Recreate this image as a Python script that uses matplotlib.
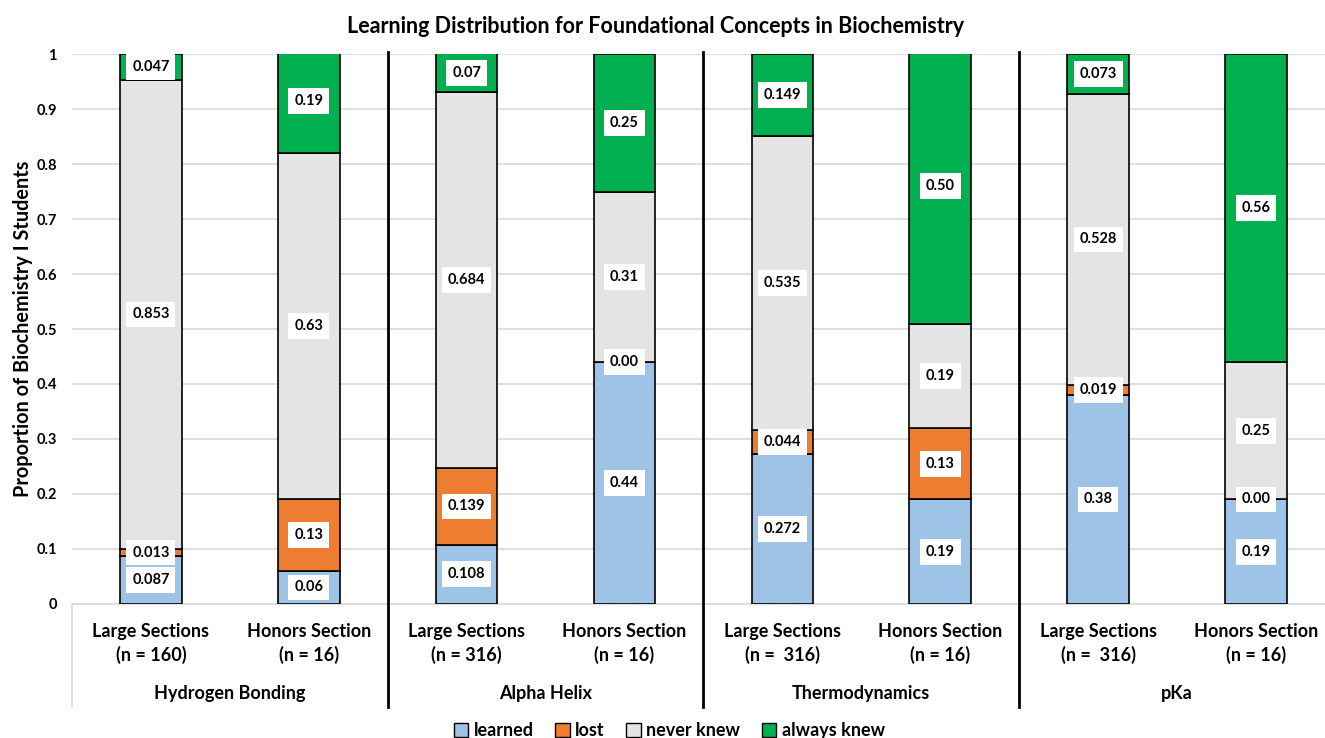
import numpy as np
import matplotlib.pyplot as plt
import matplotlib.transforms as mtransforms
from matplotlib.patches import Patch

plt.rcParams['font.family'] = ['Lato', 'DejaVu Sans']
plt.rcParams['font.weight'] = 'bold'

# data
bar_labels = ["Large Sections\n(n = 160)", "Honors Section\n(n = 16)",
              "Large Sections\n(n = 316)", "Honors Section\n(n = 16)",
              "Large Sections\n(n =  316)", "Honors Section\n(n = 16)",
              "Large Sections\n(n =  316)", "Honors Section\n(n = 16)"]
groups = ["Hydrogen Bonding", "Alpha Helix", "Thermodynamics", "pKa"]

learned = [0.087, 0.06, 0.108, 0.44, 0.272, 0.19, 0.38, 0.19]
lost = [0.013, 0.13, 0.139, 0.00, 0.044, 0.13, 0.019, 0.00]
never_knew = [0.853, 0.63, 0.684, 0.31, 0.535, 0.19, 0.528, 0.25]
always_knew = [0.047, 0.19, 0.07, 0.25, 0.149, 0.50, 0.073, 0.56]
label_text = [
    ["0.087", "0.06", "0.108", "0.44", "0.272", "0.19", "0.38", "0.19"],
    ["0.013", "0.13", "0.139", "0.00", "0.044", "0.13", "0.019", "0.00"],
    ["0.853", "0.63", "0.684", "0.31", "0.535", "0.19", "0.528", "0.25"],
    ["0.047", "0.19", "0.07", "0.25", "0.149", "0.50", "0.073", "0.56"],
]

series = [learned, lost, never_knew, always_knew]
names = ["learned", "lost", "never knew", "always knew"]
colors = ["#9DC3E6", "#ED7D31", "#E4E4E4", "#00B050"]

fig = plt.figure(figsize=(13.25, 7.38), dpi=100)
ax = fig.add_axes([0.0543, 0.1816, 0.9532, 0.7452])

x = np.arange(len(bar_labels))
bottom = np.zeros(len(x))
for vals, col, txts in zip(series, colors, label_text):
    vals = np.array(vals)
    ax.bar(x, vals, 0.39, bottom=bottom, color=col, edgecolor='black',
           linewidth=1.2, zorder=3)
    for xi, b, v, t in zip(x, bottom, vals, txts):
        ax.text(xi, min(b + v / 2, 1 - 0.023), t, ha='center', va='center',
                fontsize=10.5, fontweight='bold', zorder=5,
                bbox=dict(boxstyle='square,pad=0.4', fc='white', ec='none'))
    bottom += vals

ax.set_xlim(-0.5, 7.5)
ax.set_ylim(0, 1)
ax.set_yticks(np.arange(0, 1.01, 0.1))
ax.set_yticklabels(['0'] + ['%.1f' % v for v in np.arange(0.1, 0.95, 0.1)] + ['1'],
                   fontsize=10.5, fontweight='bold')
ax.set_xticks([])
ax.tick_params(axis='y', length=0, pad=11)
ax.grid(axis='y', color='#D9D9D9', linewidth=1.2, zorder=0)
for s in ['top', 'right', 'left']:
    ax.spines[s].set_visible(False)
ax.spines['bottom'].set_color('#D9D9D9')
ax.spines['bottom'].set_linewidth(1.2)

trans = mtransforms.blended_transform_factory(ax.transData, ax.transAxes)
for xi, lab in zip(x, bar_labels):
    ax.text(xi, -0.072, lab, transform=trans, ha='center', va='center',
            fontsize=13, fontweight='bold', linespacing=1.35)
for gi, g in enumerate(groups):
    ax.text(2 * gi + 0.5, -0.162, g, transform=trans, ha='center', va='center',
            fontsize=13, fontweight='bold')
for sx in [1.5, 3.5, 5.5]:
    ax.plot([sx, sx], [-0.187, 1.004], transform=trans, color='black',
            linewidth=2, clip_on=False, zorder=6)
ax.plot([-0.5, -0.5], [-0.187, 0], transform=trans, color='#D9D9D9',
        linewidth=1.2, clip_on=False)

ax.set_ylabel("Proportion of Biochemistry I Students", fontsize=14.3,
              fontweight='bold', labelpad=2)
fig.suptitle("Learning Distribution for Foundational Concepts in Biochemistry",
             x=0.495, y=0.978, fontsize=15.5, fontweight='bold')

handles = [Patch(facecolor=c, edgecolor='black', linewidth=1) for c in colors]
fig.legend(handles, names, loc='center', bbox_to_anchor=(0.505, 0.01), ncol=4,
           frameon=False, fontsize=13, handlelength=0.8, handleheight=0.8,
           handletextpad=0.3, columnspacing=1.2)

fig.savefig("out.png", dpi=100)
